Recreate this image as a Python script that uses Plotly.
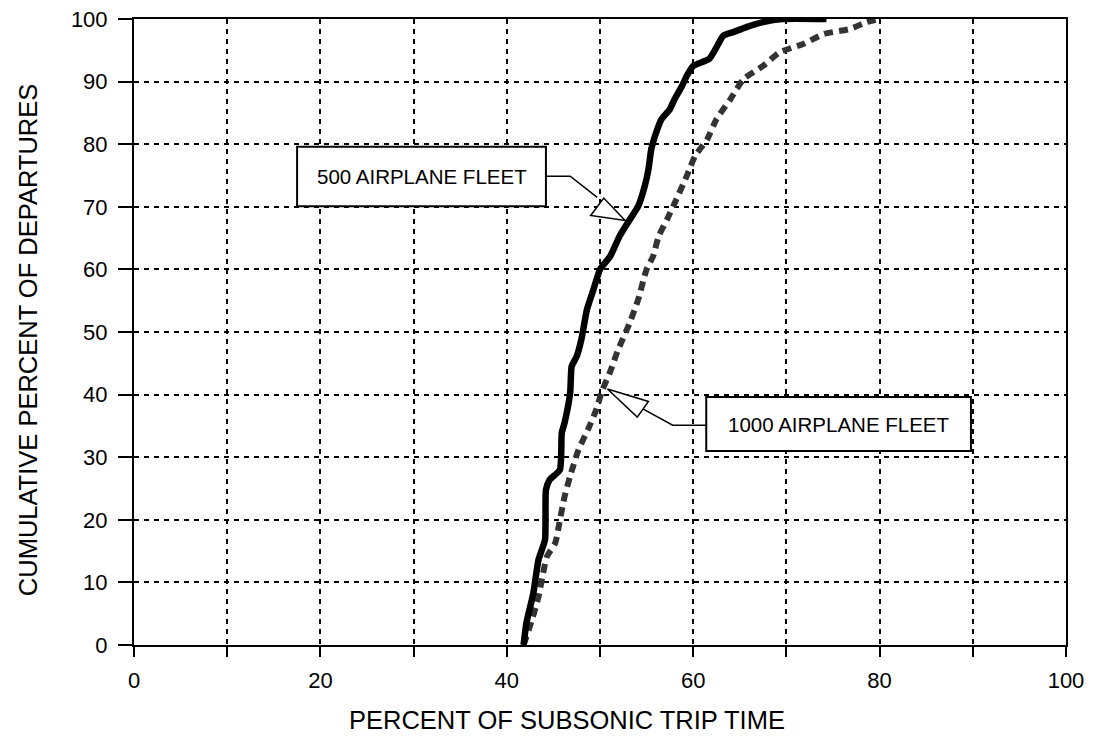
import plotly.graph_objects as go

# Cumulative distribution of departures vs. percent of subsonic trip time
fleet500_x = [41.8, 42.1, 42.85, 43.4, 44.1, 44.2, 44.6, 45.7, 45.9, 46.2, 46.8, 46.96,
              47.5, 48.0, 48.6, 49.3, 50.0, 51.1, 52.1, 53.0, 54.1, 54.8, 55.2, 55.5,
              55.9, 56.6, 57.5, 58.0, 58.8, 59.3, 60.0, 61.7, 62.4, 63.2, 64.3, 65.7,
              67.5, 69.5, 74.3]
fleet500_y = [0, 3.5, 8.3, 13.6, 16.8, 24.8, 26.4, 28, 33.9, 35.5, 40.3, 44.5,
              46.1, 48.8, 53.6, 56.8, 60, 62.1, 65.3, 67.5, 70.1, 73.3, 76, 79.2,
              81.3, 84, 85.6, 87.2, 89.3, 90.9, 92.5, 93.6, 95.2, 97.3, 97.9, 98.7,
              99.5, 100, 100]

fleet1000_x = [41.8, 42.8, 43.4, 43.9, 44.3, 45.2, 45.7, 46.2, 46.8, 47.7, 48.7, 49.6,
               50.2, 51.1, 51.9, 53.2, 54.1, 55.0, 55.7, 56.3, 57.2, 58.2, 59.3, 60.2,
               61.5, 62.5, 64.0, 65.4, 67.5, 69.3, 71.8, 74.0, 76.8, 78.6, 80.0]
fleet1000_y = [0, 4.5, 7.7, 11.5, 14.1, 16.3, 20, 23.7, 27, 31.2, 34.4, 37.6,
               40.5, 43.7, 47, 51.5, 55.2, 60, 62.1, 65.3, 68, 71.2, 74.9, 78.1,
               80.8, 84, 87.2, 90.4, 92.5, 94.7, 96, 97.6, 98.4, 99.5, 100]

x_ticks = list(range(0, 101, 10))
x_ticklabels = [str(v) if v % 20 == 0 else "" for v in x_ticks]
y_ticks = list(range(0, 101, 10))

label500 = "500 AIRPLANE FLEET"
label1000 = "1000 AIRPLANE FLEET"
x_title = "PERCENT OF SUBSONIC TRIP TIME"
y_title = "CUMULATIVE PERCENT OF DEPARTURES"

FONT = "Liberation Sans, Arial, Helvetica, sans-serif"

fig = go.Figure()
fig.add_trace(go.Scatter(
    x=fleet1000_x, y=fleet1000_y, mode="lines", name=label1000,
    line=dict(color="#333333", width=6, dash="9px,6px", shape="spline", smoothing=0.6),
))
fig.add_trace(go.Scatter(
    x=fleet500_x, y=fleet500_y, mode="lines", name=label500,
    line=dict(color="black", width=6.5, shape="spline", smoothing=0.5),
))

# Callout boxes with pointers
shapes = [
    dict(type="rect", xref="x", yref="y", x0=17.5, x1=44.2, y0=70.1, y1=79.6,
         line=dict(color="black", width=2), fillcolor="white", layer="above"),
    dict(type="path", xref="x", yref="y",
         path="M 44.2,74.9 L 46.8,74.9 L 49.7,71.5",
         line=dict(color="black", width=1.5), layer="above"),
    dict(type="path", xref="x", yref="y",
         path="M 52.7,67.8 L 50.4,71.4 L 49.0,68.6 Z",
         line=dict(color="black", width=1.5), fillcolor="white", layer="above"),
    dict(type="rect", xref="x", yref="y", x0=61.4, x1=89.8, y0=31.0, y1=39.6,
         line=dict(color="black", width=2), fillcolor="white", layer="above"),
    dict(type="path", xref="x", yref="y",
         path="M 61.4,35.1 L 57.8,35.1 L 54.5,37.8",
         line=dict(color="black", width=1.5), layer="above"),
    dict(type="path", xref="x", yref="y",
         path="M 50.8,40.9 L 55.2,38.9 L 54.0,36.4 Z",
         line=dict(color="black", width=1.5), fillcolor="white", layer="above"),
]

annotations = [
    dict(x=(17.5 + 44.2) / 2, y=(70.1 + 79.6) / 2, xref="x", yref="y",
         text=label500, showarrow=False,
         font=dict(family=FONT, size=20.5, color="black")),
    dict(x=(61.4 + 89.8) / 2, y=(31.0 + 39.6) / 2, xref="x", yref="y",
         text=label1000, showarrow=False,
         font=dict(family=FONT, size=20.5, color="black")),
    # axis titles
    dict(x=0.4646, y=-0.1198, xref="paper", yref="paper", text=x_title,
         showarrow=False, xanchor="center", yanchor="middle",
         font=dict(family=FONT, size=25.5, color="black")),
    dict(x=-0.1137, y=0.487, xref="paper", yref="paper", text=y_title,
         showarrow=False, xanchor="center", yanchor="middle", textangle=-90,
         font=dict(family=FONT, size=25.5, color="black")),
]

fig.update_layout(
    width=1093, height=736,
    margin=dict(l=134, r=27, t=19, b=91),
    paper_bgcolor="white", plot_bgcolor="white",
    showlegend=False,
    font=dict(family=FONT, color="black"),
    shapes=shapes,
    annotations=annotations,
)

fig.update_xaxes(
    range=[0, 100], tickmode="array", tickvals=x_ticks, ticktext=x_ticklabels,
    ticks="outside", ticklen=10, tickwidth=2, tickcolor="black",
    ticklabelstandoff=5, automargin=False,
    showline=True, linecolor="black", linewidth=2, mirror=True,
    showgrid=True, gridcolor="black", gridwidth=1.6, griddash="5px,5px",
    zeroline=False,
    tickfont=dict(family=FONT, size=22, color="black"),
)
fig.update_yaxes(
    range=[0, 100], tickmode="array", tickvals=y_ticks,
    ticks="outside", ticklen=14, tickwidth=2, tickcolor="black",
    ticklabelstandoff=6, automargin=False,
    showline=True, linecolor="black", linewidth=2, mirror=True,
    showgrid=True, gridcolor="black", gridwidth=1.6, griddash="5px,5px",
    zeroline=False,
    tickfont=dict(family=FONT, size=22, color="black"),
)

fig.write_html("out.html")
